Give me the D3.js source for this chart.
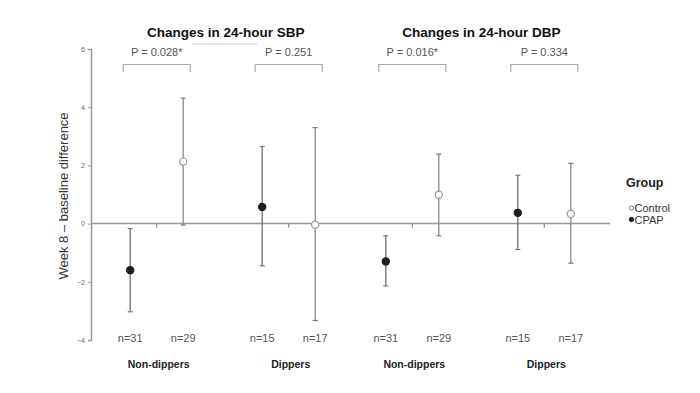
<!DOCTYPE html>
<html>
<head>
<meta charset="utf-8">
<script src="https://cdn.jsdelivr.net/npm/d3@7"></script>
<style>
  body { margin: 0; background: #fff; }
  text { font-family: "Liberation Sans", Arial, sans-serif; }
</style>
</head>
<body>
<div id="chart"></div>
<script>
// data
const panels = ['SBP', 'DBP'];
const panelTitles = ['Changes in 24-hour SBP', 'Changes in 24-hour DBP'];
const categories = ['Non-dippers', 'Dippers'];
const groups = ['CPAP', 'Control'];
const yTicks = [-4, -2, 0, 2, 4, 6];

// one row per point: panel, category, group, mean, lower, upper, n
const panelOf =    ['SBP', 'SBP', 'SBP', 'SBP', 'DBP', 'DBP', 'DBP', 'DBP'];
const categoryOf = ['Non-dippers', 'Non-dippers', 'Dippers', 'Dippers', 'Non-dippers', 'Non-dippers', 'Dippers', 'Dippers'];
const groupOf =    ['CPAP', 'Control', 'CPAP', 'Control', 'CPAP', 'Control', 'CPAP', 'Control'];
const means =  [-1.60, 2.13, 0.57, -0.04, -1.30, 0.99, 0.37, 0.33];
const lowers = [-3.03, -0.05, -1.45, -3.33, -2.14, -0.42, -0.89, -1.36];
const uppers = [-0.17, 4.31, 2.65, 3.30, -0.42, 2.39, 1.66, 2.07];
const nValues = [31, 29, 15, 17, 31, 29, 15, 17];

const pPanel = ['SBP', 'SBP', 'DBP', 'DBP'];
const pCategory = ['Non-dippers', 'Dippers', 'Non-dippers', 'Dippers'];
const pLabels = ['P = 0.028*', 'P = 0.251', 'P = 0.016*', 'P = 0.334'];

const rows = means.map((m, i) => ({
  panel: panelOf[i], cat: categoryOf[i], group: groupOf[i],
  mean: m, lo: lowers[i], hi: uppers[i], n: nValues[i]
}));

const width = 700, height = 393;
const svg = d3.select('#chart').append('svg')
  .attr('width', width)
  .attr('height', height);

// scales
const y = d3.scaleLinear().domain([-4, 6]).range([340, 49]);
const xPanel = d3.scaleBand().domain(panels).range([91, 602.2]);
const xCat = d3.scalePoint().domain(categories).range([65.7, 197.7]);
const xGroup = d3.scalePoint().domain(groups).range([-26.5, 26.5]);
const cx = (p, c) => xPanel(p) + xCat(c);
const px = d => cx(d.panel, d.cat) + xGroup(d.group);

const grey = '#8c8c8c';

// y axis
const yAxis = d3.axisLeft(y).tickValues(yTicks).tickSize(3).tickPadding(3);
const gy = svg.append('g').attr('transform', 'translate(91,0)').call(yAxis);
gy.select('.domain').attr('stroke', '#999').attr('stroke-width', 1.5);
gy.selectAll('.tick line').attr('stroke', '#999');
gy.selectAll('.tick text').attr('fill', '#666').style('font-size', '7px');

svg.append('text')
  .attr('transform', 'translate(68,196) rotate(-90)')
  .attr('text-anchor', 'middle')
  .attr('fill', '#333')
  .style('font-size', '13px')
  .text('Week 8 \u2013 baseline difference');

// zero line
svg.append('line')
  .attr('x1', 91).attr('x2', 610)
  .attr('y1', y(0)).attr('y2', y(0))
  .attr('stroke', '#999').attr('stroke-width', 1.5);

// category ticks on zero line
panels.forEach(p => {
  categories.forEach(c => {
    svg.append('line')
      .attr('x1', cx(p, c)).attr('x2', cx(p, c))
      .attr('y1', y(0)).attr('y2', y(0) + 4)
      .attr('stroke', '#888').attr('stroke-width', 1.2);
  });
});

// panel titles
panels.forEach((p, i) => {
  svg.append('text')
    .attr('x', xPanel(p) + (xCat.range()[0] + xCat.range()[1]) / 2 + 3)
    .attr('y', 37)
    .attr('text-anchor', 'middle')
    .style('font-size', '13.5px')
    .style('font-weight', 'bold')
    .attr('fill', '#111')
    .text(panelTitles[i]);
});
// faint stray line under the SBP title
svg.append('line')
  .attr('x1', 192).attr('x2', 257).attr('y1', 44).attr('y2', 44)
  .attr('stroke', '#ccc').attr('stroke-width', 1);

// p-value brackets
pLabels.forEach((lab, i) => {
  const c = cx(pPanel[i], pCategory[i]);
  svg.append('text')
    .attr('x', c).attr('y', 56)
    .attr('text-anchor', 'middle')
    .style('font-size', '11px')
    .attr('fill', '#555')
    .text(lab);
  svg.append('path')
    .attr('d', `M${c - 33.5},72V64.5H${c + 33.5}V72`)
    .attr('fill', 'none')
    .attr('stroke', '#aaa')
    .attr('stroke-width', 1.2);
});

// error bars
const bars = svg.append('g').selectAll('g').data(rows).enter().append('g');
bars.append('line')
  .attr('x1', px).attr('x2', px)
  .attr('y1', d => y(d.lo)).attr('y2', d => y(d.hi))
  .attr('stroke', d => d.group === 'CPAP' ? '#6e6e6e' : grey)
  .attr('stroke-width', 1.3);
bars.selectAll('.cap').data(d => [[d, d.lo], [d, d.hi]]).enter().append('line')
  .attr('x1', e => px(e[0]) - 2.5).attr('x2', e => px(e[0]) + 2.5)
  .attr('y1', e => y(e[1])).attr('y2', e => y(e[1]))
  .attr('stroke', '#777').attr('stroke-width', 1.2);
bars.append('circle')
  .attr('cx', px).attr('cy', d => y(d.mean))
  .attr('r', 3.6)
  .attr('fill', d => d.group === 'CPAP' ? '#1e1e1e' : '#fff')
  .attr('stroke', d => d.group === 'CPAP' ? '#1e1e1e' : '#999')
  .attr('stroke-width', 1.2);

// n labels
svg.append('g').selectAll('text').data(rows).enter().append('text')
  .attr('x', px).attr('y', 342)
  .attr('text-anchor', 'middle')
  .style('font-size', '11px')
  .attr('fill', '#555')
  .text(d => 'n=' + d.n);

// category labels
panels.forEach(p => {
  categories.forEach(c => {
    svg.append('text')
      .attr('x', cx(p, c) + 2).attr('y', 368)
      .attr('text-anchor', 'middle')
      .style('font-size', '10.5px')
      .style('font-weight', 'bold')
      .attr('fill', '#222')
      .text(c);
  });
});

// legend
const legend = svg.append('g').attr('transform', 'translate(626,0)');
legend.append('text')
  .attr('x', 0).attr('y', 187)
  .style('font-size', '12.5px').style('font-weight', 'bold')
  .attr('fill', '#222')
  .text('Group');
const legendItems = ['Control', 'CPAP'];
legendItems.forEach((g, i) => {
  const yy = 209 + i * 11.5;
  legend.append('circle')
    .attr('cx', 5.5).attr('cy', yy - 1)
    .attr('r', 2.2)
    .attr('fill', g === 'CPAP' ? '#222' : '#fff')
    .attr('stroke', g === 'CPAP' ? '#222' : '#888');
  legend.append('text')
    .attr('x', 8.5).attr('y', yy + 3)
    .style('font-size', '11px')
    .attr('fill', '#333')
    .text(g);
});
</script>
</body>
</html>
